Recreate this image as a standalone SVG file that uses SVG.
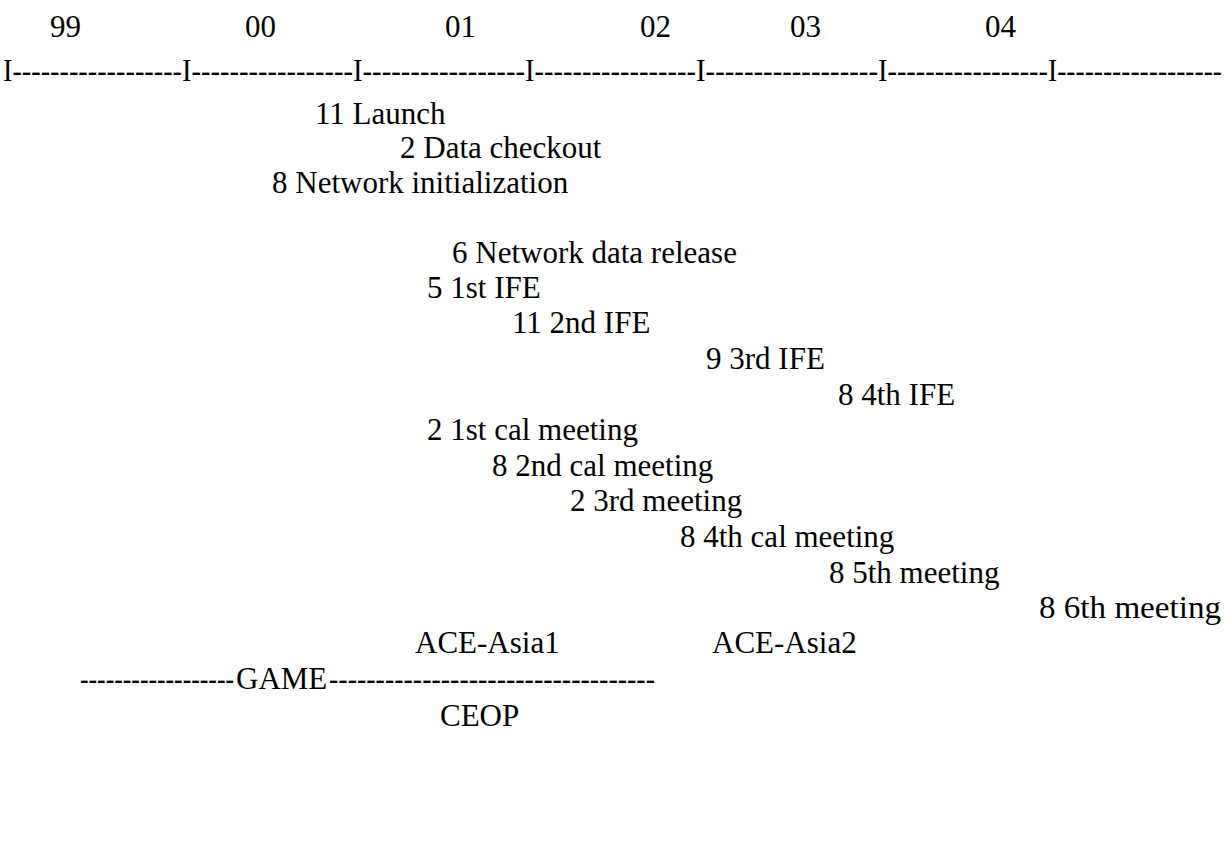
<svg xmlns="http://www.w3.org/2000/svg" width="1226" height="868" viewBox="0 0 1226 868">
<style>
text{font-family:"Liberation Serif","Times New Roman",serif;font-size:31px;fill:#000}
</style>
<rect width="1226" height="868" fill="#fff"/>
<g id="years">
<text x="50" y="37">99</text>
<text x="245" y="37">00</text>
<text x="445" y="37">01</text>
<text x="640" y="37">02</text>
<text x="790" y="37">03</text>
<text x="985" y="37">04</text>
</g>
<g id="axis">
<text x="3" y="81" textLength="179" lengthAdjust="spacingAndGlyphs">I------------------</text>
<text x="182" y="81" textLength="171" lengthAdjust="spacingAndGlyphs">I-----------------</text>
<text x="353" y="81" textLength="172" lengthAdjust="spacingAndGlyphs">I-----------------</text>
<text x="525" y="81" textLength="171" lengthAdjust="spacingAndGlyphs">I-----------------</text>
<text x="696" y="81" textLength="182" lengthAdjust="spacingAndGlyphs">I------------------</text>
<text x="878" y="81" textLength="170" lengthAdjust="spacingAndGlyphs">I-----------------</text>
<text x="1048" y="81" textLength="174" lengthAdjust="spacingAndGlyphs">I------------------</text>
</g>
<g id="events">
<text x="315" y="124">11 Launch</text>
<text x="400" y="158">2 Data checkout</text>
<text x="272" y="193">8 Network initialization</text>
<text x="452" y="263">6 Network data release</text>
<text x="427" y="298">5 1st IFE</text>
<text x="512" y="333">11 2nd IFE</text>
<text x="706" y="369">9 3rd IFE</text>
<text x="838" y="405">8 4th IFE</text>
<text x="427" y="440">2 1st cal meeting</text>
<text x="492" y="476">8 2nd cal meeting</text>
<text x="570" y="511">2 3rd meeting</text>
<text x="680" y="547">8 4th cal meeting</text>
<text x="829" y="583">8 5th meeting</text>
<text x="1039" y="618" textLength="182" lengthAdjust="spacingAndGlyphs">8 6th meeting</text>
</g>
<g id="projects">
<text x="415" y="653">ACE-Asia1</text>
<text x="712" y="653">ACE-Asia2</text>
<text x="80" y="689" textLength="154" lengthAdjust="spacingAndGlyphs">------------------</text>
<text x="236" y="689">GAME</text>
<text x="329" y="689" textLength="326" lengthAdjust="spacingAndGlyphs">-----------------------------------</text>
<text x="440" y="726">CEOP</text>
</g>
</svg>
